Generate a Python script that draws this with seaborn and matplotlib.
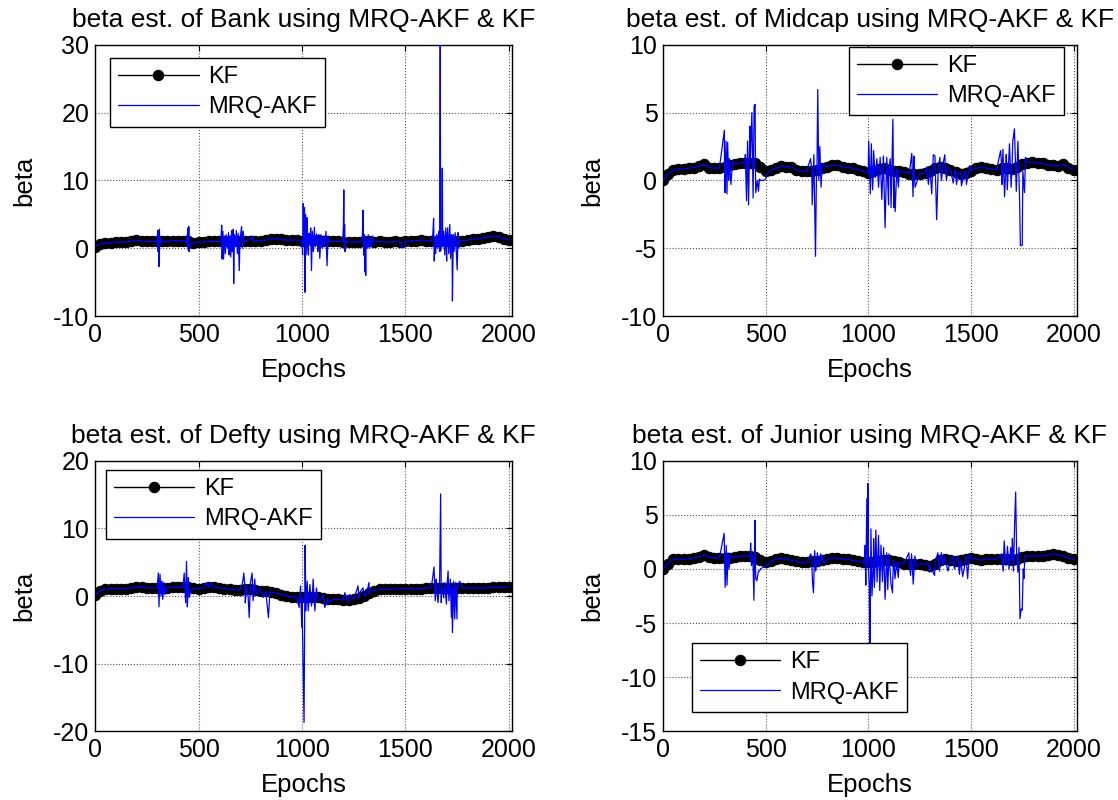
import numpy as np
import pandas as pd
import matplotlib
matplotlib.use("Agg")
import matplotlib.pyplot as plt
import seaborn as sns

sns.set_style("white")
plt.rcParams['font.family'] = ['Liberation Sans', 'DejaVu Sans']
plt.rcParams['axes.unicode_minus'] = False
plt.rcParams['text.color'] = 'black'
plt.rcParams['axes.labelcolor'] = 'black'
plt.rcParams['xtick.color'] = 'black'
plt.rcParams['ytick.color'] = 'black'

# KF estimates sampled every 25 epochs (0..2000)
epochs = list(range(0, 2001, 25))

bank_kf = [0.2, 0.6, 0.8, 0.8, 0.9, 0.9, 0.9, 1.0, 1.2, 1.1, 1.0, 1.0, 1.0, 1.0, 1.0, 1.1, 1.1,
           1.1, 1.1, 0.8, 0.9, 0.9, 1.0, 1.0, 1.0, 1.0, 1.0, 1.0, 1.0, 1.0, 1.0, 1.1, 1.1, 1.2,
           1.4, 1.4, 1.3, 1.2, 1.2, 1.2, 1.1, 1.3, 1.2, 1.2, 1.1, 1.0, 1.0, 1.0, 0.9, 0.9, 0.9,
           0.9, 1.0, 1.0, 0.9, 1.0, 0.9, 0.9, 1.0, 0.9, 1.0, 1.1, 1.1, 1.2, 1.1, 1.1, 1.1, 1.2,
           1.1, 1.1, 1.1, 1.1, 1.2, 1.3, 1.4, 1.5, 1.7, 1.8, 1.7, 1.4, 1.2]
midcap_kf = [0.0, 0.5, 0.75, 0.85, 0.85, 0.9, 0.95, 1.05, 1.2, 0.95, 0.9, 0.9, 1.0, 1.15, 1.2,
             1.3, 1.3, 1.3, 1.3, 1.0, 0.7, 0.75, 0.9, 1.05, 1.0, 1.0, 0.8, 0.7, 0.7, 0.7, 0.75,
             0.9, 1.0, 1.1, 1.1, 1.0, 0.95, 0.9, 0.8, 0.7, 0.55, 0.7, 0.85, 0.9, 0.8, 0.7, 0.7,
             0.6, 0.5, 0.5, 0.5, 0.55, 0.7, 0.9, 1.0, 0.95, 0.8, 0.6, 0.5, 0.55, 0.7, 0.9, 1.0,
             0.9, 0.85, 0.8, 0.9, 0.9, 0.85, 1.0, 1.2, 1.3, 1.35, 1.3, 1.25, 1.15, 1.1, 1.05,
             1.2, 0.95, 0.8]
defty_kf = [0.2, 0.8, 1.0, 1.1, 1.1, 1.1, 1.1, 1.2, 1.4, 1.3, 1.2, 1.2, 1.2, 1.2, 1.2, 1.3, 1.3,
            1.3, 1.4, 1.2, 1.1, 1.2, 1.3, 1.3, 1.2, 1.1, 1.0, 0.9, 0.9, 1.0, 1.0, 0.9, 0.8, 0.7,
            0.6, 0.4, 0.2, 0.0, -0.1, -0.2, -0.2, -0.2, -0.1, -0.2, -0.3, -0.4, -0.5, -0.5, -0.6,
            -0.6, -0.5, -0.3, 0.0, 0.4, 0.8, 1.0, 1.0, 1.0, 1.0, 1.1, 1.1, 1.1, 1.1, 1.1, 1.2,
            1.2, 1.2, 1.2, 1.2, 1.2, 1.2, 1.2, 1.2, 1.2, 1.2, 1.2, 1.2, 1.3, 1.3, 1.3, 1.3]
junior_kf = [0.0, 0.5, 0.9, 0.9, 0.9, 0.95, 1.0, 1.1, 1.3, 1.1, 1.0, 1.0, 1.0, 1.0, 1.1, 1.2,
             1.2, 1.2, 1.1, 0.8, 0.6, 0.7, 0.9, 1.0, 0.9, 0.8, 0.7, 0.6, 0.6, 0.7, 0.7, 0.8, 0.9,
             1.0, 1.0, 0.9, 0.9, 0.8, 0.7, 0.6, 0.6, 0.6, 0.7, 0.8, 0.8, 0.7, 0.6, 0.5, 0.5, 0.5,
             0.5, 0.4, 0.3, 0.5, 0.8, 0.9, 0.8, 0.7, 0.8, 0.9, 1.0, 0.9, 0.8, 0.9, 0.9, 0.9, 0.9,
             0.9, 0.8, 0.9, 1.1, 1.2, 1.2, 1.2, 1.2, 1.3, 1.4, 1.3, 1.2, 1.0, 0.9]

# MRQ-AKF departures from the KF track (epoch, beta)
bank_sp_ep = [300, 303, 305, 307, 309, 311, 313, 315, 318, 322,
              440, 445, 447, 449, 451, 453, 455, 458, 465, 475, 480,
              608, 612, 614, 618, 621, 625, 630, 634, 640, 645, 648, 652, 656, 660, 663, 668, 670,
              673, 678, 683, 688, 692, 697, 700, 708, 712, 716, 720, 735, 750, 760, 765,
              998, 1003, 1006, 1009, 1012, 1014, 1017, 1020, 1024, 1028, 1031, 1034, 1038, 1042,
              1046, 1050, 1055, 1060, 1064, 1070, 1076, 1082, 1086, 1092, 1098, 1105, 1110, 1116,
              1121, 1126, 1132,
              1196, 1200, 1202, 1204, 1206, 1208, 1212,
              1288, 1292, 1295, 1298, 1301, 1303, 1305, 1308, 1310, 1315, 1320, 1325, 1330, 1336,
              1342, 1348,
              1478, 1482, 1495,
              1632, 1636, 1639, 1643, 1646, 1650, 1655, 1660, 1665, 1668, 1670, 1676, 1678, 1680,
              1685, 1690, 1695, 1699, 1704, 1709, 1714, 1718, 1722, 1727, 1731, 1735, 1740, 1745,
              1750, 1754, 1758, 1763, 1770]
bank_sp_val = [1.0, 2.6, -0.5, 2.2, -2.7, 2.8, 0.2, 1.5, 0.8, 1.0,
               1.0, 2.0, 0.2, 3.0, -0.3, 3.2, -0.5, 0.6, 0.5, 0.6, 0.9,
               1.0, 3.4, -1.6, 2.5, -1.6, 1.8, -0.8, 2.0, 0.0, 2.3, -1.0, 1.8, -1.3, 2.6, -0.5,
               2.8, -5.2, 2.0, 0.3, 2.6, -0.8, 2.2, -3.3, 1.0, 3.2, 0.0, 2.5, 1.0, 1.2, 1.3, 1.8, 1.0,
               1.0, -1.0, 6.6, 0.5, 6.0, -6.5, 5.0, -1.0, 4.5, 0.0, -1.0, 2.2, 0.5, 3.0,
               -3.3, 2.5, -0.5, 3.1, 0.2, 2.1, -0.5, 2.0, -1.5, 2.0, 0.0, 1.8, 0.5, 2.5,
               -2.6, 1.8, 1.0,
               1.0, 3.0, 8.6, 1.0, 3.5, -0.5, 1.0,
               1.0, 2.0, 5.6, -1.0, 2.0, -3.5, 1.5, -4.0, 1.0, 0.0, 2.0, 0.0, 1.5, 0.2,
               1.8, 1.0,
               0.9, 0.1, 0.1,
               2.0, 4.4, -1.9, 1.5, -0.8, 2.0, 0.0, 2.5, -0.5, 35.0, -0.4, 1.0, 11.8, 0.2,
               2.5, -1.0, 3.0, -1.9, 3.0, -0.8, 3.5, -1.5, 2.0, -7.8, 2.0, -0.5, 2.3, 0.0,
               -3.2, 2.3, 0.0, 1.2, 1.1]

midcap_sp_ep = [299, 302, 307, 312, 315, 320, 323, 331, 339,
                401, 407, 412, 417, 423, 433, 439, 444, 449, 452, 460, 465, 470, 475, 490, 500, 510,
                719, 727, 735, 743, 748, 754, 759, 764, 770, 775,
                1002, 1010, 1015, 1021, 1026, 1034, 1042, 1050, 1058, 1066, 1074, 1082, 1090, 1099,
                1107, 1111, 1120, 1124, 1131, 1139, 1147,
                1212, 1218, 1222, 1228,
                1285, 1293, 1301, 1309, 1317, 1325, 1333, 1341, 1349, 1357, 1365, 1373, 1381, 1389,
                1414, 1422, 1430, 1438, 1454, 1470, 1478, 1494,
                1645, 1651, 1656, 1664, 1672, 1677, 1688, 1696, 1704, 1712, 1721, 1729, 1737, 1741,
                1750, 1753, 1761, 1766]
midcap_sp_val = [3.7, -0.9, 2.9, -1.0, 2.8, 0.0, 1.6, -0.3, 1.4,
                 1.9, -1.5, 2.9, -1.8, 4.0, 5.0, -1.3, 5.5, 5.6, -0.9, 0.0, -0.8, 0.1, 0.0, 0.0,
                 0.1, 0.5,
                 1.6, -1.8, 1.9, -5.6, 1.0, 6.7, 0.0, 2.5, -0.5, 1.2,
                 2.9, -1.0, 2.7, -0.7, 2.2, 0.2, 1.6, -0.5, 1.7, -1.4, 1.8, -3.5, 1.7, -1.8,
                 1.6, -2.0, 4.5, -2.0, -2.3, 0.9, -0.5,
                 2.0, -1.2, 1.8, -0.5,
                 1.0, -0.3, 0.9, -1.0, 1.9, 1.8, -2.9, 0.9, 1.7, 0.0, 1.3, 1.9, 0.0, 1.0,
                 -0.2, 0.7, -0.3, 0.6, -0.4, 0.7, -0.3, 1.1,
                 2.2, -0.3, 2.3, -1.2, 1.9, -0.7, 2.7, -0.5, 2.9, 3.8, -0.8, 2.9, -1.3, -4.8,
                 -4.8, 0.7, -0.9, 1.7]

defty_sp_ep = [306, 309, 314, 319, 322, 327, 333, 338,
               431, 438, 442, 446, 451, 455, 462,
               540, 548, 555,
               713, 719, 726, 732, 740, 745, 751, 759, 764, 772, 780, 796, 813, 838, 845,
               986, 993, 999, 1010, 1015, 1019, 1025, 1030, 1038, 1046, 1054, 1062, 1070, 1086,
               1102, 1110, 1126,
               1207, 1223, 1231,
               1271, 1279, 1295, 1311, 1324, 1331,
               1638, 1644, 1649, 1657, 1665, 1670, 1673, 1678, 1685, 1689, 1698, 1706, 1710, 1717,
               1722, 1727, 1733, 1738, 1743, 1749, 1755, 1762]
defty_sp_val = [3.4, -1.6, 3.2, 0.0, 2.2, -0.5, 2.0, 0.2,
                3.4, -1.0, 5.1, -1.6, 2.7, -0.2, 0.7,
                2.0, 1.2, 2.0,
                2.0, 3.4, -1.0, 1.5, -0.2, -3.2, 2.0, 3.4, -0.7, 2.5, 0.2, 1.2, -0.2, -3.2, 0.7,
                -1.7, 1.5, -4.6, -18.7, 7.5, -2.2, 2.2, -2.2, 1.7, -1.5, 2.5, -2.2, 1.2, -0.7,
                0.2, -1.7, -1.0,
                0.5, -1.0, 0.2,
                1.5, 0.5, 1.2, 0.2, 2.0, 1.0,
                4.3, -0.7, 2.5, -1.0, 2.2, 15.1, -1.0, 1.2, -0.3, 2.0, -1.2, 3.7, -0.7, 2.5,
                -3.2, -5.4, 2.2, -3.4, 2.0, -3.4, 1.7, 2.2]

junior_sp_ep = [298, 303, 308, 312, 317, 322, 328,
                427, 431, 438, 443, 448, 452, 457, 465, 470, 475, 490, 500, 520,
                720, 728, 733, 739, 744, 752, 760, 768, 776, 784,
                982, 985, 988, 993, 997, 998, 1005, 1008, 1013, 1018, 1026, 1030, 1037, 1043, 1050,
                1056, 1062, 1069, 1075, 1082, 1090, 1095, 1101, 1111, 1118, 1122, 1130, 1138, 1146,
                1198, 1206, 1211, 1219, 1227, 1235,
                1291, 1299, 1323, 1339, 1347, 1356, 1364, 1372, 1388,
                1412, 1420, 1436, 1444, 1460, 1476, 1484, 1492,
                1650, 1657, 1662, 1670, 1678, 1686, 1694, 1702, 1707, 1713, 1718, 1723, 1729, 1734,
                1739, 1745, 1750, 1755, 1758, 1763]
junior_sp_val = [3.3, -1.7, 2.2, -1.5, 1.5, 0.0, 1.2,
                 2.4, 0.3, 1.2, -2.9, 4.5, -0.9, -1.1, -0.2, -0.2, 0.0, 0.2, 0.3, 0.5,
                 1.4, -1.1, -2.2, 1.7, -0.2, 1.5, 0.2, 1.4, 1.2, 0.5,
                 0.9, 2.2, -1.5, 6.5, 0.3, 7.9, -1.5, -8.0, 3.7, -2.5, 2.8, -1.7, 3.6, -1.2, 3.1,
                 -2.0, 2.2, -1.2, 2.0, -2.8, 1.5, -1.9, 1.4, -1.4, -2.2, 0.8, -0.9, 0.6, -0.8,
                 1.5, -0.6, 1.4, -1.4, 1.2, 0.3,
                 0.6, -0.3, -0.6, 1.5, -0.2, 1.5, 0.3, 1.2, -0.2,
                 1.2, 0.0, 1.2, -0.5, -0.7, 1.2, -0.9, 1.4,
                 1.4, -0.2, 2.6, 0.3, 2.1, 0.0, 2.0, 2.8, -0.2, 4.2, 7.1, 1.2, -0.3, 2.0,
                 -4.6, -3.7, -3.8, 0.0, -0.9, 1.2]

names = ['Bank', 'Midcap', 'Defty', 'Junior']
kf_series = [bank_kf, midcap_kf, defty_kf, junior_kf]
sp_epochs = [bank_sp_ep, midcap_sp_ep, defty_sp_ep, junior_sp_ep]
sp_values = [bank_sp_val, midcap_sp_val, defty_sp_val, junior_sp_val]
ylims = [(-10, 30), (-10, 10), (-20, 20), (-15, 10)]
ysteps = [10, 5, 10, 5]

# axes boxes [left, bottom, width, height] in figure fraction
boxes = [[0.085, 0.605, 0.373, 0.339], [0.593, 0.605, 0.370, 0.339],
         [0.085, 0.086, 0.373, 0.338], [0.593, 0.086, 0.370, 0.338]]
legend_anchor = [(0.036, 0.952), (0.449, 0.993), (0.026, 0.967), (0.07, 0.326)]

fig = plt.figure(figsize=(11.18, 8.0), dpi=100)
fs = 18

for i in range(4):
    ax = fig.add_axes(boxes[i])
    kf = pd.DataFrame({'epoch': epochs, 'beta': kf_series[i]})
    sp = pd.DataFrame({'epoch': sp_epochs[i], 'beta': sp_values[i]})
    akf = pd.concat([kf, sp]).drop_duplicates('epoch', keep='last').sort_values('epoch')

    sns.lineplot(data=kf, x='epoch', y='beta', ax=ax, color='black', linewidth=1,
                 marker='o', markersize=7.5, markeredgecolor='black', label='KF',
                 estimator=None, zorder=2)
    sns.lineplot(data=akf, x='epoch', y='beta', ax=ax, color='blue', linewidth=0.9,
                 label='MRQ-AKF', estimator=None, sort=False, zorder=3)

    ax.set_xlim(0, 2015)
    ax.set_ylim(*ylims[i])
    ax.set_xticks([0, 500, 1000, 1500, 2000])
    ax.set_yticks(np.arange(ylims[i][0], ylims[i][1] + 1, ysteps[i]))
    ax.grid(True, linestyle=':', color='#555555', linewidth=0.8)
    ax.tick_params(direction='in', top=True, right=True, length=4, labelsize=fs,
                   color='black', labelcolor='black')
    ax.tick_params(axis='x', pad=5)
    ax.tick_params(axis='y', pad=4)
    for s in ax.spines.values():
        s.set_color('black')
        s.set_linewidth(1)
    ax.set_xlabel('Epochs', fontsize=fs + 0.5, labelpad=8, color='black')
    ax.set_ylabel('beta', fontsize=fs + 0.5, labelpad=12, color='black')
    ax.set_title('beta est. of %s using MRQ-AKF & KF' % names[i], fontsize=19, pad=13,
                 color='black')

    leg = ax.legend(loc='upper left', bbox_to_anchor=legend_anchor[i], borderaxespad=0,
                    fontsize=17, fancybox=False, framealpha=1, edgecolor='black',
                    handlelength=3.4, handletextpad=0.4, numpoints=1, labelspacing=0.35,
                    borderpad=0.35)
    leg.get_frame().set_linewidth(1)
    for t in leg.get_texts():
        t.set_color('black')
    leg.set_zorder(10)

fig.savefig('out.png', dpi=100)
